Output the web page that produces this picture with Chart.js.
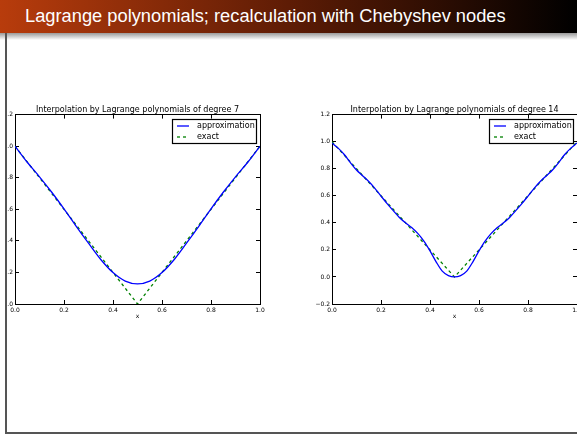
<!DOCTYPE html>
<html lang="en">
<head>
<meta charset="UTF-8">
<title>Lagrange polynomials; recalculation with Chebyshev nodes</title>
<script src="https://cdn.jsdelivr.net/npm/chart.js"></script>
<style>
    html, body { margin: 0; padding: 0; width: 577px; height: 439px; overflow: hidden; background: #fff; }
    .titlebar { position: absolute; left: 0; top: 0; width: 577px; height: 33px;
        background: linear-gradient(to right, #b83c0c, #5e1c05 50%, #000); }
    .titlebar span { position: absolute; left: 25px; top: 5px; color: #fff; font-family: "Liberation Sans", sans-serif;
        font-size: 18.3px; white-space: nowrap; }
    .shadow { position: absolute; left: 0; top: 33px; width: 577px; height: 7px; background: linear-gradient(#9a9a9a, #fff); }
    .frame { position: absolute; left: 5px; top: 33px; width: 600px; height: 399px;
        border-left: 2px solid #555; border-bottom: 2px solid #555; }
    #clip1 { position: absolute; left: 7px; top: 95px; width: 290px; height: 230px; overflow: hidden; }
    #c1 { position: absolute; left: -25px; top: 0; }
    #c2 { position: absolute; left: 300px; top: 95px; }
</style>
</head>
<body>
<div class="titlebar"><span id="slideTitle">Lagrange polynomials; recalculation with Chebyshev nodes</span></div>
<div class="shadow"></div>
<div class="frame"></div>
<div id="clip1"><canvas id="c1" width="290" height="230"></canvas></div>
<canvas id="c2" width="290" height="230"></canvas>

<script>
// degree 7 chart
const xs7 = [0, 0.05, 0.1, 0.15, 0.2, 0.25, 0.3, 0.35, 0.4, 0.45, 0.5,
             0.55, 0.6, 0.65, 0.7, 0.75, 0.8, 0.85, 0.9, 0.95, 1];
const approx7 = [1.0, 0.898, 0.806, 0.708, 0.603, 0.492, 0.385, 0.282, 0.199, 0.145, 0.127,
                 0.145, 0.199, 0.282, 0.385, 0.492, 0.603, 0.708, 0.806, 0.898, 1.0];
const exact7 = [1.0, 0.9, 0.8, 0.7, 0.6, 0.5, 0.4, 0.3, 0.2, 0.1, 0.0,
                0.1, 0.2, 0.3, 0.4, 0.5, 0.6, 0.7, 0.8, 0.9, 1.0];

// degree 14 chart
const xs14 = [0, 0.025, 0.05, 0.075, 0.1, 0.125, 0.15, 0.175, 0.2, 0.225, 0.25, 0.275, 0.3, 0.325,
              0.35, 0.375, 0.4, 0.425, 0.45, 0.475, 0.5, 0.525, 0.55, 0.575, 0.6, 0.625, 0.65,
              0.675, 0.7, 0.725, 0.75, 0.775, 0.8, 0.825, 0.85, 0.875, 0.9, 0.925, 0.95, 0.975, 1];
const approx14 = [0.99, 0.952, 0.905, 0.845, 0.79, 0.748, 0.705, 0.655, 0.598, 0.542, 0.49, 0.44, 0.4, 0.366,
                  0.322, 0.265, 0.193, 0.112, 0.043, 0.01, 0.0, 0.01, 0.043, 0.112, 0.193, 0.265, 0.322,
                  0.366, 0.4, 0.44, 0.49, 0.542, 0.598, 0.655, 0.705, 0.748, 0.79, 0.845, 0.905, 0.952, 0.99];
const exact14 = [1.0, 0.95, 0.9, 0.85, 0.8, 0.75, 0.7, 0.65, 0.6, 0.55, 0.5, 0.45, 0.4, 0.35,
                 0.3, 0.25, 0.2, 0.15, 0.1, 0.05, 0.0, 0.05, 0.1, 0.15, 0.2, 0.25, 0.3,
                 0.35, 0.4, 0.45, 0.5, 0.55, 0.6, 0.65, 0.7, 0.75, 0.8, 0.85, 0.9, 0.95, 1.0];

const seriesNames = ['approximation', 'exact'];
const xTicks = [0, 0.2, 0.4, 0.6, 0.8, 1.0];

const FONT = 'DejaVu Sans';
const tickFont = { family: FONT, size: 6 };

function fmt(v) {
    const r = Math.round(v * 10) / 10;
    return (r < 0 ? '\u2212' : '') + Math.abs(r).toFixed(1);
}

// matplotlib style legend box in the upper right corner of the axes
const boxLegend = {
    id: 'boxLegend',
    afterDraw(chart) {
        const ctx = chart.ctx, a = chart.chartArea;
        const w = 84, h = 24;
        const left = Math.round(a.right - 4 - w), top = Math.round(a.top + 4);
        ctx.save();
        ctx.fillStyle = '#fff';
        ctx.fillRect(left, top, w, h);
        ctx.strokeStyle = '#000';
        ctx.lineWidth = 1.2;
        ctx.strokeRect(left + 0.5, top + 0.5, w, h);
        ctx.font = '8px "' + FONT + '"';
        ctx.textBaseline = 'middle';
        chart.data.datasets.forEach((ds, i) => {
            const y = top + 7 + i * 11;
            ctx.strokeStyle = ds.borderColor;
            ctx.lineWidth = ds.borderWidth;
            ctx.setLineDash(ds.borderDash || []);
            ctx.beginPath();
            ctx.moveTo(left + 5, y);
            ctx.lineTo(left + 17, y);
            ctx.stroke();
            ctx.fillStyle = '#000';
            ctx.fillText(ds.label, left + 25, y);
        });
        ctx.restore();
    }
};

function makeChart(id, xs, approx, exact, yMin, yAxisWidth, padRight, title) {
    const inward = { drawOnChartArea: false, tickLength: -4, color: '#000', lineWidth: 1 };
    const border = { color: '#000', width: 1 };
    return new Chart(document.getElementById(id), {
        type: 'line',
        data: {
            datasets: [{
                label: seriesNames[0],
                data: xs.map((x, i) => ({ x: x, y: approx[i] })),
                borderColor: '#0000ff',
                borderWidth: 1.3,
                pointRadius: 0,
                cubicInterpolationMode: 'monotone',
                fill: false
            }, {
                label: seriesNames[1],
                data: xs.map((x, i) => ({ x: x, y: exact[i] })),
                borderColor: '#008000',
                borderWidth: 1.3,
                borderDash: [3, 3],
                pointRadius: 0,
                tension: 0,
                fill: false
            }]
        },
        options: {
            responsive: false,
            animation: false,
            layout: { padding: { left: 0, right: padRight, top: 0, bottom: 0 } },
            plugins: {
                legend: { display: false },
                tooltip: { enabled: false },
                title: {
                    display: true,
                    text: title,
                    fullSize: false,
                    color: '#000',
                    font: { family: FONT, size: 8, weight: 'normal' },
                    padding: { top: 10, bottom: 0 }
                }
            },
            scales: {
                x: {
                    type: 'linear', position: 'bottom', min: 0, max: 1,
                    afterBuildTicks: s => { s.ticks = xTicks.map(v => ({ value: v })); },
                    ticks: { callback: fmt, font: tickFont, color: '#000', padding: 7, maxRotation: 0, autoSkip: false },
                    grid: inward,
                    border: border,
                    title: { display: true, text: 'x', color: '#000', font: tickFont, padding: { top: 0, bottom: 5 } },
                    afterFit: s => { s.height = 21; }
                },
                y: {
                    type: 'linear', position: 'left', min: yMin, max: 1.2,
                    ticks: { stepSize: 0.2, callback: fmt, font: tickFont, color: '#000', padding: 6 },
                    grid: inward,
                    border: border,
                    afterFit: s => { s.width = yAxisWidth; }
                },
                x2: {
                    type: 'linear', position: 'top', min: 0, max: 1,
                    afterBuildTicks: s => { s.ticks = xTicks.map(v => ({ value: v })); },
                    ticks: { display: false },
                    grid: inward,
                    border: border,
                    afterFit: s => { s.height = 0; }
                },
                y2: {
                    type: 'linear', position: 'right', min: yMin, max: 1.2,
                    ticks: { display: false, stepSize: 0.2 },
                    grid: inward,
                    border: border,
                    afterFit: s => { s.width = 0; }
                }
            }
        },
        plugins: [boxLegend]
    });
}

makeChart('c1', xs7, approx7, exact7, 0, 33, 12, 'Interpolation by Lagrange polynomials of degree 7');
makeChart('c2', xs14, approx14, exact14, -0.2, 32, 13, 'Interpolation by Lagrange polynomials of degree 14');
</script>
</body>
</html>
